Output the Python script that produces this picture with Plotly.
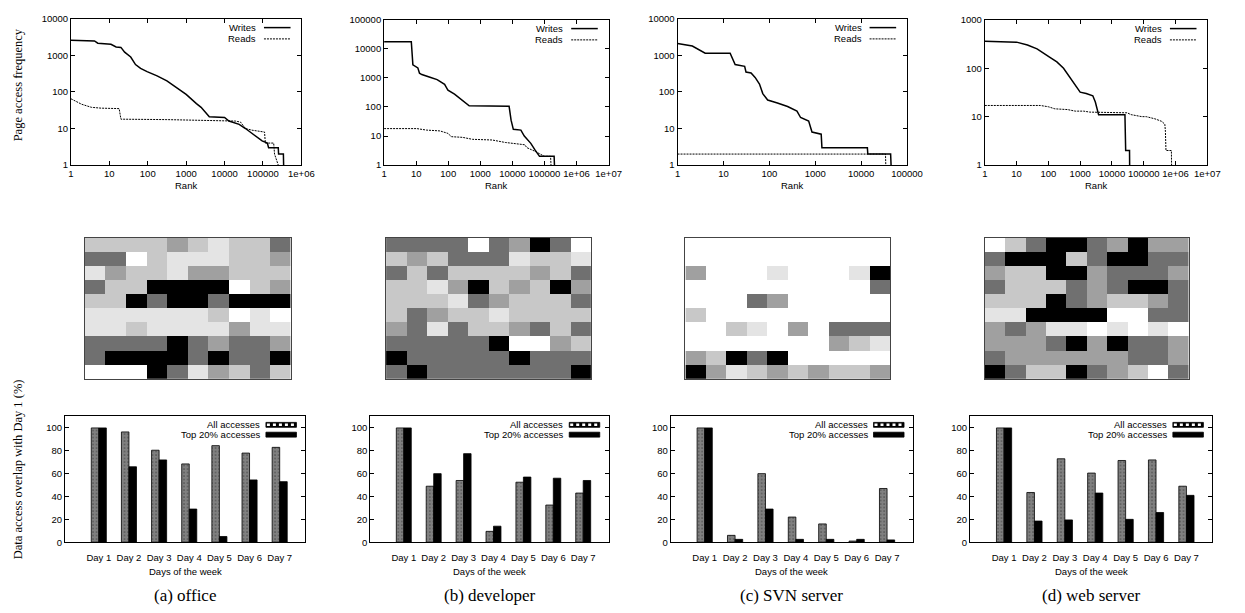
import plotly.graph_objects as go

W, H = 1245, 613

# ---------------- data ----------------
# rank / frequency curves (top row)
office_w_rank = [1, 4.1, 5, 9, 11, 15, 20, 25, 36, 48, 65, 96, 175, 315, 560, 1000, 1850, 2450, 4000, 10000, 13000, 24000, 35000, 47000, 63000, 95000, 130000, 140000, 250000, 255000, 340000, 345000]
office_w_freq = [2600, 2480, 2150, 2060, 2000, 1700, 1650, 1220, 900, 560, 440, 360, 275, 200, 128, 86, 48, 38, 21, 20, 16, 13, 10, 8, 6.6, 4.6, 4, 3, 3, 2, 2, 1]
office_r_rank = [1, 1.9, 3.4, 6.1, 18, 20, 315, 10000, 19000, 26000, 35000, 52000, 95000, 110000, 115000, 190000, 200000, 250000]
office_r_freq = [65, 46, 38, 36, 35, 18, 17.5, 16.5, 16, 15, 10, 9, 8, 8, 4, 4, 2, 1]

dev_w_rank = [1, 7.05, 7.9, 9.4, 11.3, 12.7, 15, 27, 45, 77, 98, 157, 250, 340, 450, 7900, 9100, 10700, 18400, 23500, 29700, 37500, 50000, 70000, 200000, 205000]
dev_w_freq = [17500, 17500, 2800, 2500, 2200, 1450, 1300, 1050, 870, 600, 375, 275, 185, 145, 110, 105, 35, 17, 16, 10, 7.3, 5.6, 3.4, 2, 2, 1]
dev_r_rank = [1, 10.5, 21, 55, 98, 125, 280, 570, 2350, 6000, 24500, 28000, 50000, 100000, 155000, 160000]
dev_r_freq = [18, 18, 16, 15, 12.3, 9.5, 9, 7.7, 7.3, 6, 5, 4, 3, 2, 2, 1]

svn_w_rank = [1, 2.1, 4, 14, 18, 29, 31, 40, 49, 55, 61, 72, 92, 150, 250, 400, 480, 720, 850, 1350, 1400, 13700, 14000, 44000, 45000]
svn_w_freq = [2100, 1800, 1150, 1150, 560, 500, 350, 330, 250, 200, 165, 90, 60, 50, 40, 30, 20, 16, 8, 7, 3, 3, 2, 2, 1]
svn_r_rank = [1, 34000, 34500]
svn_r_freq = [2, 2, 1]

web_w_rank = [1, 3.3, 10, 22, 44, 115, 185, 300, 420, 600, 860, 1000, 1550, 2500, 3000, 3800, 25600, 27000, 35700, 36000]
web_w_freq = [360, 355, 345, 300, 250, 165, 135, 100, 72, 50, 36, 32, 30, 27, 20, 11, 11, 2, 2, 1]
web_r_rank = [1, 56, 100, 160, 400, 700, 1300, 2000, 30000, 40000, 87000, 120000, 226000, 300000, 365000, 460000, 480000, 500000, 740000, 750000]
web_r_freq = [17, 17, 16, 14.5, 14, 13, 13, 12.4, 12, 11, 10, 10, 9, 8.5, 8, 7, 5, 2, 2, 1]

rank_tick_vals = [1, 10, 100, 1000, 10000, 100000, 1000000, 10000000]
rank_tick_text = ["1", "10", "100", "1000", "10000", "100000", "1e+06", "1e+07"]
freq_tick_vals = [1, 10, 100, 1000, 10000, 100000]
freq_tick_text = ["1", "10", "100", "1000", "10000", "100000"]

# day-to-day overlap heat maps (grey level 0=white ... 5=black), rows top->bottom
grey_levels = ["#ffffff", "#e4e4e4", "#c8c8c8", "#a0a0a0", "#707070", "#000000"]
office_map = [
    [2, 2, 2, 2, 3, 2, 1, 2, 2, 4],
    [4, 4, 0, 2, 1, 1, 1, 2, 2, 3],
    [1, 3, 2, 2, 1, 3, 3, 2, 2, 2],
    [4, 2, 2, 5, 5, 5, 5, 0, 2, 3],
    [2, 2, 5, 4, 5, 5, 4, 5, 5, 5],
    [1, 1, 1, 1, 1, 1, 2, 0, 1, 0],
    [1, 1, 2, 1, 1, 1, 1, 3, 1, 1],
    [4, 4, 4, 4, 5, 4, 3, 4, 4, 3],
    [4, 5, 5, 5, 5, 4, 5, 4, 4, 5],
    [0, 0, 0, 5, 4, 1, 3, 2, 4, 2],
]
dev_map = [
    [4, 4, 4, 4, 0, 4, 3, 5, 4, 0],
    [2, 3, 2, 4, 4, 4, 1, 2, 2, 1],
    [4, 2, 4, 2, 2, 2, 2, 3, 2, 4],
    [2, 2, 1, 3, 5, 2, 3, 2, 5, 3],
    [2, 2, 2, 1, 4, 3, 2, 2, 2, 4],
    [2, 4, 3, 2, 2, 1, 2, 2, 2, 2],
    [3, 4, 1, 4, 2, 2, 3, 4, 2, 4],
    [4, 4, 4, 4, 4, 5, 0, 0, 3, 2],
    [5, 4, 4, 4, 4, 4, 5, 4, 4, 4],
    [4, 5, 4, 4, 4, 4, 4, 4, 4, 5],
]
svn_map = [
    [0, 0, 0, 0, 0, 0, 0, 0, 0, 0],
    [0, 0, 0, 0, 0, 0, 0, 0, 0, 0],
    [3, 0, 0, 0, 1, 0, 0, 0, 1, 5],
    [0, 0, 0, 0, 0, 0, 0, 0, 0, 4],
    [0, 0, 0, 4, 3, 0, 0, 0, 0, 0],
    [2, 0, 0, 0, 0, 0, 0, 0, 0, 0],
    [0, 0, 2, 1, 0, 3, 0, 4, 4, 4],
    [0, 0, 0, 0, 0, 0, 0, 3, 2, 1],
    [3, 2, 5, 4, 5, 0, 0, 0, 0, 0],
    [5, 3, 1, 2, 3, 2, 3, 2, 2, 3],
]
web_map = [
    [0, 2, 4, 5, 5, 4, 3, 5, 3, 3],
    [4, 5, 5, 5, 2, 4, 5, 5, 4, 4],
    [3, 2, 2, 5, 5, 3, 4, 4, 4, 3],
    [4, 2, 2, 2, 4, 3, 4, 5, 5, 4],
    [2, 2, 2, 5, 4, 3, 2, 2, 3, 4],
    [1, 1, 5, 5, 5, 5, 0, 0, 4, 4],
    [3, 4, 3, 1, 1, 0, 1, 0, 1, 0],
    [3, 3, 3, 4, 5, 3, 5, 4, 4, 3],
    [4, 3, 3, 3, 3, 3, 3, 4, 4, 3],
    [5, 4, 2, 2, 5, 4, 3, 2, 0, 4],
]

# overlap with day 1 (bottom row)
days = ["Day 1", "Day 2", "Day 3", "Day 4", "Day 5", "Day 6", "Day 7"]
office_all = [100, 96.5, 80.5, 68.5, 84.5, 78, 83]
office_top = [100, 66, 72, 29, 5, 54.5, 53]
dev_all = [100, 49, 54, 9.5, 52.5, 32.5, 43]
dev_top = [100, 60, 77.5, 14, 57, 56, 54]
svn_all = [100, 6, 60, 22, 16, 1, 47]
svn_top = [100, 2.5, 29, 2.5, 2.5, 2.5, 2]
web_all = [100, 43.5, 73, 60.5, 71.5, 72, 49]
web_top = [100, 18.5, 19.5, 43, 20, 26, 41]

captions = ["(a) office", "(b) developer", "(c) SVN server", "(d) web server"]
overlap_tick_vals = [0, 20, 40, 60, 80, 100]

# ---------------- layout geometry (pixels) ----------------
line_boxes = [(69, 303, 13, 162), (387, 615, 14, 162), (685, 918, 13, 162), (997, 1223, 14, 162)]
line_xrange = [[0, 6], [0, 7], [0, 5], [0, 7]]
line_yrange = [[0, 4], [0, 5], [0, 4], [0, 3]]
map_boxes = [(83, 292, 236, 380), (389, 597, 236, 380), (693, 901, 236, 380), (997, 1204, 236, 380)]
bar_boxes = [(63, 307, 418, 546), (373, 615, 418, 546), (678, 924, 418, 546), (982, 1228, 418, 546)]

SANS = "Liberation Sans, Arial, sans-serif"
SERIF = "Liberation Serif, Times New Roman, serif"
TICKFONT = dict(family=SANS, size=9.5, color="black")


def px(x):
    return x / W


def py(y):
    return 1 - y / H


def dom(box):
    x0, x1, y0, y1 = box
    return [px(x0), px(x1)], [py(y1), py(y0)]


fig = go.Figure()
layout = {}
shapes = []
annotations = []

line_data = [
    (office_w_rank, office_w_freq, office_r_rank, office_r_freq),
    (dev_w_rank, dev_w_freq, dev_r_rank, dev_r_freq),
    (svn_w_rank, svn_w_freq, svn_r_rank, svn_r_freq),
    (web_w_rank, web_w_freq, web_r_rank, web_r_freq),
]
maps = [office_map, dev_map, svn_map, web_map]
bars = [(office_all, office_top), (dev_all, dev_top), (svn_all, svn_top), (web_all, web_top)]

axis_common = dict(showline=True, linecolor="black", linewidth=1, mirror="allticks",
                   ticks="inside", ticklen=4, tickcolor="black", showgrid=False,
                   zeroline=False, tickfont=TICKFONT)

n = 0
# ---- top row: rank/frequency ----
for i in range(4):
    n += 1
    xr, xf, rr, rf = line_data[i]
    xs = "" if n == 1 else str(n)
    fig.add_trace(go.Scatter(x=xr, y=xf, mode="lines", line=dict(color="black", width=1.5),
                             xaxis="x" + xs, yaxis="y" + xs, showlegend=False, name="Writes"))
    fig.add_trace(go.Scatter(x=rr, y=rf, mode="lines", line=dict(color="black", width=1, dash="2px,1px"),
                             xaxis="x" + xs, yaxis="y" + xs, showlegend=False, name="Reads"))
    xd, yd = dom(line_boxes[i])
    nx = int(line_xrange[i][1]) + 1
    ny = int(line_yrange[i][1]) + 1
    layout["xaxis" + xs] = dict(axis_common, domain=xd, anchor="y" + xs, type="log", range=line_xrange[i],
                                tickvals=rank_tick_vals[:nx], ticktext=rank_tick_text[:nx])
    layout["yaxis" + xs] = dict(axis_common, domain=yd, anchor="x" + xs, type="log", range=line_yrange[i],
                                tickvals=freq_tick_vals[:ny], ticktext=freq_tick_text[:ny])
    x0, x1, y0, y1 = line_boxes[i]
    # legend
    for k, (lab, lw, dash) in enumerate([("Writes", 1.5, "solid"), ("Reads", 1, "2px,1px")]):
        yy = y0 + 9 + k * 11.5
        annotations.append(dict(x=px(x1 - 44), y=py(yy), xref="paper", yref="paper", text=lab,
                                showarrow=False, xanchor="right", yanchor="middle",
                                font=dict(family=SANS, size=9.5, color="black")))
        shapes.append(dict(type="line", xref="paper", yref="paper", x0=px(x1 - 38), x1=px(x1 - 11),
                           y0=py(yy), y1=py(yy), line=dict(color="black", width=lw, dash=dash)))
    annotations.append(dict(x=px((x0 + x1) / 2), y=py(183), xref="paper", yref="paper", text="Rank",
                            showarrow=False, xanchor="center", yanchor="middle",
                            font=dict(family=SANS, size=9.5, color="black")))

# ---- middle row: heat maps ----
cscale = [[k / 5, c] for k, c in enumerate(grey_levels)]
for i in range(4):
    n += 1
    xs = str(n)
    fig.add_trace(go.Heatmap(z=maps[i], colorscale=cscale, zmin=0, zmax=5, showscale=False,
                             xaxis="x" + xs, yaxis="y" + xs, xgap=0, ygap=0, hoverinfo="skip"))
    xd, yd = dom(map_boxes[i])
    layout["xaxis" + xs] = dict(domain=xd, anchor="y" + xs, range=[-0.5, 9.5], showline=True,
                                linecolor="#444", linewidth=1, mirror=True, ticks="",
                                showticklabels=False, showgrid=False, zeroline=False)
    layout["yaxis" + xs] = dict(domain=yd, anchor="x" + xs, range=[9.5, -0.5], showline=True,
                                linecolor="#444", linewidth=1, mirror=True, ticks="",
                                showticklabels=False, showgrid=False, zeroline=False)

# ---- bottom row: overlap bars ----
for i in range(4):
    n += 1
    xs = str(n)
    a, t = bars[i]
    fig.add_trace(go.Bar(x=days, y=a, name="All accesses", showlegend=False,
                         xaxis="x" + xs, yaxis="y" + xs, offsetgroup="all",
                         marker=dict(color="black", line=dict(color="black", width=0.8),
                                     pattern=dict(shape=".", fgcolor="white", bgcolor="black",
                                                  size=3.5, solidity=0.85))))
    fig.add_trace(go.Bar(x=days, y=t, name="Top 20% accesses", showlegend=False,
                         xaxis="x" + xs, yaxis="y" + xs, offsetgroup="top",
                         marker=dict(color="black", line=dict(color="black", width=0.8))))
    xd, yd = dom(bar_boxes[i])
    layout["xaxis" + xs] = dict(domain=xd, anchor="y" + xs, type="category", range=[-1.12, 6.85],
                                showline=True, linecolor="black", linewidth=1, mirror=True,
                                ticks="", showgrid=False, zeroline=False, tickfont=TICKFONT,
                                ticklabelstandoff=6)
    layout["yaxis" + xs] = dict(axis_common, domain=yd, anchor="x" + xs, range=[0, 110],
                                tickvals=overlap_tick_vals)
    x0, x1, y0, y1 = bar_boxes[i]
    for k, lab in enumerate(["All accesses", "Top 20% accesses"]):
        yy = y0 + 8.5 + k * 10
        annotations.append(dict(x=px(x1 - 44), y=py(yy), xref="paper", yref="paper", text=lab,
                                showarrow=False, xanchor="right", yanchor="middle",
                                font=dict(family=SANS, size=9.5, color="black")))
        shapes.append(dict(type="rect", xref="paper", yref="paper", x0=px(x1 - 40), x1=px(x1 - 9),
                           y0=py(yy + 2.5), y1=py(yy - 2.5), fillcolor="black",
                           line=dict(color="black", width=0.8)))
        if k == 0:
            shapes.append(dict(type="line", xref="paper", yref="paper", x0=px(x1 - 39), x1=px(x1 - 10),
                               y0=py(yy), y1=py(yy), line=dict(color="white", width=2.5, dash="dot")))
    annotations.append(dict(x=px((x0 + x1) / 2), y=py(576), xref="paper", yref="paper",
                            text="Days of the week", showarrow=False, xanchor="center", yanchor="middle",
                            font=dict(family=SANS, size=9.5, color="black")))
    annotations.append(dict(x=px((x0 + x1) / 2), y=py(600), xref="paper", yref="paper",
                            text=captions[i], showarrow=False, xanchor="center", yanchor="middle",
                            font=dict(family=SERIF, size=17, color="black")))

annotations.append(dict(x=px(15), y=py(80), xref="paper", yref="paper", text="Page access frequency",
                        showarrow=False, textangle=-90, xanchor="center", yanchor="middle",
                        font=dict(family=SERIF, size=12.5, color="black")))
annotations.append(dict(x=px(15), y=py(472), xref="paper", yref="paper",
                        text="Data access overlap with Day 1 (%)",
                        showarrow=False, textangle=-90, xanchor="center", yanchor="middle",
                        font=dict(family=SERIF, size=12.5, color="black")))

fig.update_layout(**layout)
fig.update_layout(width=W, height=H, margin=dict(l=0, r=0, t=0, b=0),
                  paper_bgcolor="white", plot_bgcolor="white",
                  barmode="group", bargap=0.5, bargroupgap=0.0,
                  shapes=shapes, annotations=annotations, showlegend=False)

fig.write_html("out.html", config={"displayModeBar": False},
               post_script="document.body.style.margin='0px';document.body.style.overflow='hidden';")
